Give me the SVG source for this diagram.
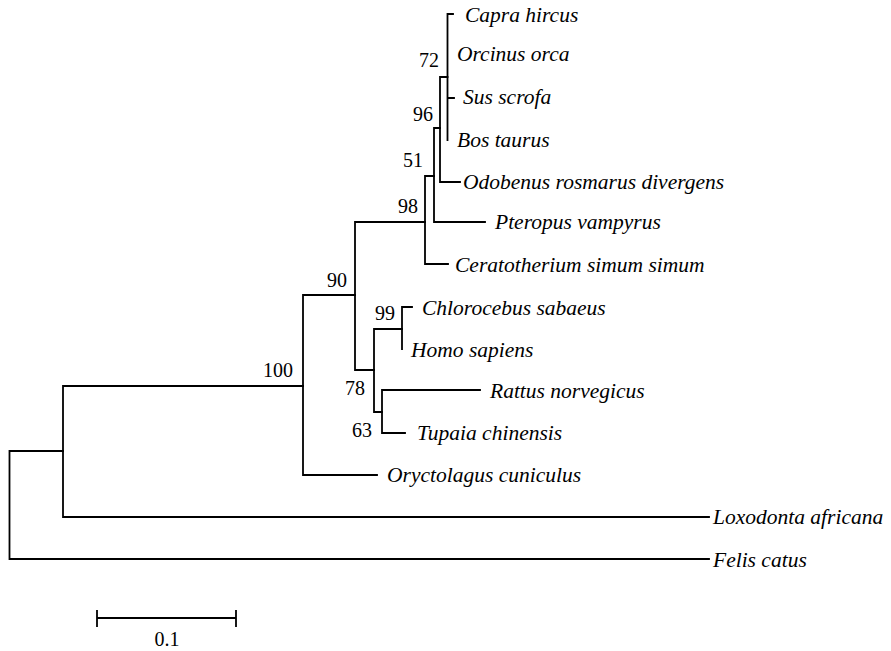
<svg xmlns="http://www.w3.org/2000/svg" width="891" height="651" viewBox="0 0 891 651">
<style>
.br{stroke:#000;stroke-width:1.8;fill:none;stroke-linecap:square}
.sp{font-family:"Liberation Serif","Times New Roman",serif;font-style:italic;font-size:21.5px;fill:#000}
.bs{font-family:"Liberation Serif","Times New Roman",serif;font-size:20px;fill:#000;text-anchor:end}
.sc{font-family:"Liberation Serif","Times New Roman",serif;font-size:20px;fill:#000;text-anchor:middle}
</style>
<rect width="891" height="651" fill="#fff"/>
<g id="connectors" class="br">
<path d="M9.5,451 V559 M9.5,451 H63 M9.5,559 H709"/>
<path d="M63,386 V517 M63,517 H709 M63,386 H303"/>
<path d="M303,295 V475 M303,475 H377 M303,295 H355"/>
<path d="M355,222 V370 M355,222 H425 M355,370 H374"/>
<path d="M425,176 V264 M425,264 H448 M425,176 H434"/>
<path d="M434,128 V222 M434,222 H485 M434,128 H440"/>
<path d="M440,77 V182 M440,182 H460 M440,77 H447.5"/>
<path d="M447.5,14 V140 M447.5,14 H453 M447.5,98 H454"/>
<path d="M374,329 V412 M374,329 H402 M374,412 H382"/>
<path d="M402,307 V349 M402,307 H412"/>
<path d="M382,390 V433 M382,390 H480 M382,433 H405"/>
</g>
<g id="leaf-capra"><text class="sp" x="465" y="22">Capra hircus</text></g>
<g id="leaf-orcinus"><text class="sp" x="457" y="61">Orcinus orca</text></g>
<g id="leaf-sus"><text class="sp" x="463" y="104">Sus scrofa</text></g>
<g id="leaf-bos"><text class="sp" x="457" y="147">Bos taurus</text></g>
<g id="leaf-odobenus"><text class="sp" x="463" y="189">Odobenus rosmarus divergens</text></g>
<g id="leaf-pteropus"><text class="sp" x="495" y="229">Pteropus vampyrus</text></g>
<g id="leaf-ceratotherium"><text class="sp" x="455" y="272">Ceratotherium simum simum</text></g>
<g id="leaf-chlorocebus"><text class="sp" x="422" y="315">Chlorocebus sabaeus</text></g>
<g id="leaf-homo"><text class="sp" x="411" y="357">Homo sapiens</text></g>
<g id="leaf-rattus"><text class="sp" x="490" y="398">Rattus norvegicus</text></g>
<g id="leaf-tupaia"><text class="sp" x="417" y="440">Tupaia chinensis</text></g>
<g id="leaf-oryctolagus"><text class="sp" x="387" y="482">Oryctolagus cuniculus</text></g>
<g id="leaf-loxodonta"><text class="sp" x="713" y="524">Loxodonta africana</text></g>
<g id="leaf-felis"><text class="sp" x="713" y="567">Felis catus</text></g>
<g id="bootstrap">
<text class="bs" x="439" y="67">72</text>
<text class="bs" x="433" y="121">96</text>
<text class="bs" x="423" y="167">51</text>
<text class="bs" x="418" y="213">98</text>
<text class="bs" x="347" y="287">90</text>
<text class="bs" x="395" y="320">99</text>
<text class="bs" x="365" y="395">78</text>
<text class="bs" x="372" y="437">63</text>
<text class="bs" x="293" y="377">100</text>
</g>
<g id="scale-bar">
<path class="br" d="M97,618 H236 M97,611 V626 M236,611 V626"/>
<text class="sc" x="167" y="646">0.1</text>
</g>
</svg>
